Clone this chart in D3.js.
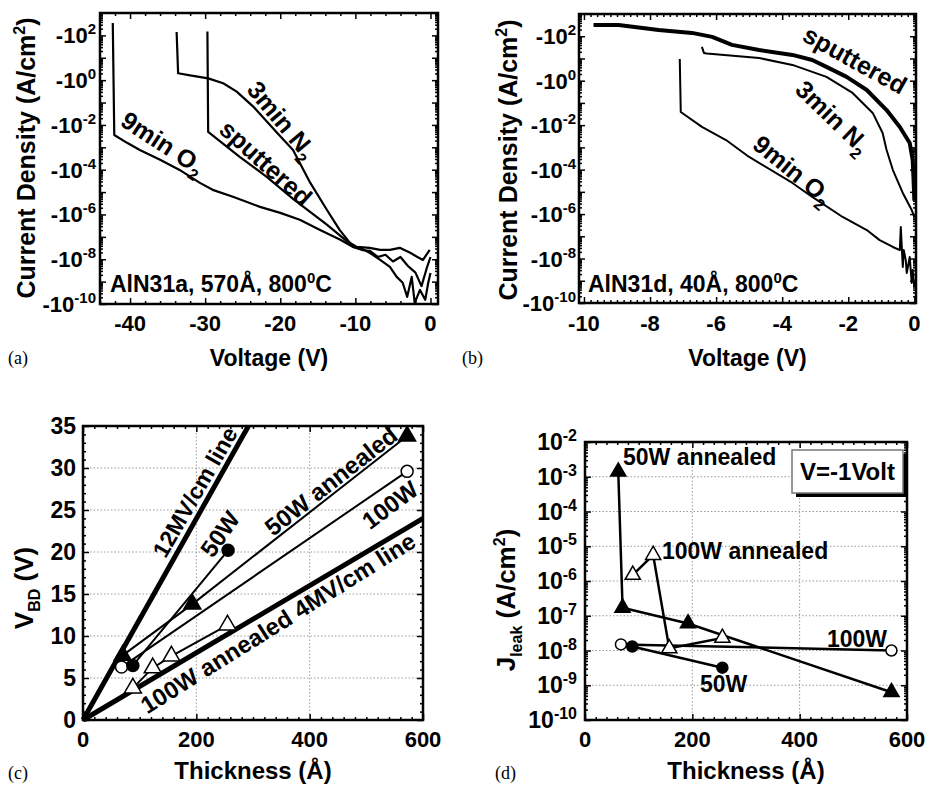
<!DOCTYPE html>
<html>
<head>
<meta charset="utf-8">
<script src="https://cdn.jsdelivr.net/npm/d3@7/dist/d3.min.js"></script>
<style>
  body { margin: 0; background: #fff; }
  text { font-family: 'Liberation Sans', Arial, sans-serif; font-weight: bold; fill: #000; }
  text.tag { font-family: 'Liberation Serif', 'Times New Roman', serif; font-weight: normal; font-size: 18px; }
</style>
</head>
<body>
<svg id="fig" width="926" height="786"></svg>
<script>
// ---- (a) AlN31a 570A : [voltage (V), log10 |J| (A/cm2)]
const aO2 = [[-42.3, 2.55], [-42.1, -2.45], [-40.4, -2.8], [-38.7, -3.12], [-36.0, -3.56], [-33.4, -4.01],
  [-30.7, -4.59], [-29.0, -4.9], [-26.3, -5.21], [-22.7, -5.66], [-20.0, -5.93], [-17.4, -6.24],
  [-14.7, -6.69], [-12.0, -7.13], [-10.3, -7.45], [-9.0, -7.55], [-8.1, -7.71], [-6.7, -8.03],
  [-5.4, -8.34], [-4.5, -8.79], [-3.7, -9.05], [-3.1, -9.68], [-2.5, -8.79], [-2.1, -9.95],
  [-1.4, -9.37], [-0.7, -9.81], [-0.3, -9.05], [0.0, -8.61]];
const aN2 = [[-33.8, 2.15], [-33.6, 0.31], [-32.0, 0.21], [-29.6, 0.08], [-27.6, -0.14], [-25.8, -0.51],
  [-23.6, -1.18], [-20.4, -2.36], [-18.3, -3.12], [-16.0, -4.59], [-13.8, -5.79], [-12.1, -6.69],
  [-10.3, -7.45], [-9.0, -7.6], [-8.1, -7.62], [-7.0, -7.9], [-6.0, -7.8], [-5.0, -8.1], [-4.0, -7.9],
  [-3.0, -8.3], [-2.0, -8.6], [-1.2, -9.2], [-0.5, -8.4], [0.0, -7.9]];
const aSput = [[-29.7, 2.17], [-29.6, -2.31], [-25.4, -3.43], [-21.8, -4.32], [-18.3, -5.3], [-13.8, -6.45],
  [-11.1, -7.2], [-9.8, -7.45], [-8.1, -7.49], [-6.7, -7.58], [-5.4, -7.58], [-4.1, -7.49], [-2.7, -7.71],
  [-1.8, -7.89], [-1.0, -8.03], [-0.1, -7.58]];

// ---- (b) AlN31d 40A
const bSput = [[-9.71, 2.51], [-8.95, 2.51], [-7.74, 2.28], [-6.73, 2.15], [-6.12, 1.97], [-5.52, 1.61],
  [-4.7, 1.38], [-3.69, 1.16], [-3.09, 0.93], [-2.66, 0.62], [-2.05, 0.17], [-1.44, -0.42], [-0.84, -1.32],
  [-0.44, -2.08], [-0.14, -2.8], [-0.05, -3.57], [-0.02, -4.6], [0.0, -5.4]];
const bN2 = [[-6.43, 1.52], [-6.37, 1.25], [-6.28, 1.22], [-4.7, 1.02], [-3.69, 0.71], [-2.66, 0.17],
  [-1.87, -0.55], [-1.26, -1.45], [-0.96, -2.35], [-0.84, -3.12], [-0.65, -4.02], [-0.35, -5.05],
  [-0.08, -5.82], [0.0, -6.13]];
const bO2 = [[-7.1, 0.98], [-7.07, -1.41], [-6.43, -2.08], [-5.7, -2.67], [-5.0, -3.43], [-3.69, -4.6],
  [-3.09, -5.23], [-2.17, -6.13], [-1.44, -6.72], [-1.05, -7.17], [-0.65, -7.48], [-0.44, -7.62],
  [-0.41, -6.58], [-0.35, -8.38], [-0.32, -7.62], [-0.26, -8.07], [-0.23, -8.65], [-0.14, -7.93],
  [-0.08, -9.1], [-0.05, -8.52], [0.0, -9.28]];

// ---- (c) breakdown voltage: [thickness (A), V_BD (V)]
const cLine12 = [[0, 0], [292, 35]];
const cLine4 = [[0, 0], [600, 24]];
const c50W = [[88, 6.5], [256, 20.2]];
const c100W = [[68, 6.3], [572, 29.6]];
const c50WA = [[70, 7.7], [193, 13.8], [572, 33.8]];
const c100WA = [[88, 3.8], [123, 6.2], [156, 7.6], [255, 11.3]];

// ---- (d) leakage at -1 V: [thickness (A), J (A/cm2)]
const d50WA = [[62, 1.4e-3], [70, 1.7e-7], [192, 6e-8], [571, 6.3e-10]];
const d100WA = [[89, 1.5e-6], [127, 5.6e-6], [157, 1.15e-8], [256, 2.3e-8]];
const d100W = [[67, 1.5e-8], [571, 1.0e-8]];
const d50W = [[88, 1.3e-8], [256, 3.2e-9]];

// tick labels
const ivXTicks = [-40, -30, -20, -10, 0];
const ivbXTicks = [-10, -8, -6, -4, -2, 0];
const ivYExp = [2, 0, -2, -4, -6, -8, -10];
const thkTicks = [0, 200, 400, 600];
const vbdTicks = [0, 5, 10, 15, 20, 25, 30, 35];
const jExp = [-2, -3, -4, -5, -6, -7, -8, -9, -10];

const svg = d3.select('#fig');

function decades(lo, hi) { return d3.range(lo, hi + 1).map(e => 10 ** e); }
function minorsLog(lo, hi) {
  const out = [];
  d3.range(lo, hi).forEach(e => { for (let k = 2; k < 10; k++) out.push(k * 10 ** e); });
  return out;
}

// inward ticks on all four sides + frame
function frame(g, x, y, w, h, xMaj, xMin, yMaj, yMin) {
  const sides = [
    [() => d3.axisBottom(x), `translate(0,${h})`, xMaj, xMin],
    [() => d3.axisTop(x), 'translate(0,0)', xMaj, xMin],
    [() => d3.axisLeft(y), 'translate(0,0)', yMaj, yMin],
    [() => d3.axisRight(y), `translate(${w},0)`, yMaj, yMin],
  ];
  sides.forEach(([mk, tr, maj, min]) => {
    [[maj, 6], [min, 3]].forEach(([vals, len]) => {
      g.append('g').attr('transform', tr)
        .call(mk().tickValues(vals).tickSize(-len).tickFormat(() => ''))
        .call(s => s.select('.domain').remove())
        .selectAll('line').attr('stroke', '#000').attr('stroke-width', 1.5);
    });
  });
  g.append('rect').attr('width', w).attr('height', h)
    .attr('fill', 'none').attr('stroke', '#000').attr('stroke-width', 2.5);
}

function powLabels(g, y, exps, xPos, base, size, supSize) {
  exps.forEach(e => {
    const t = g.append('text').attr('x', xPos).attr('y', y(10 ** e) + 8)
      .attr('text-anchor', 'end').attr('font-size', size);
    t.append('tspan').text(base);
    t.append('tspan').attr('dy', -9).attr('font-size', supSize).text(e);
  });
}

function xLabels(g, x, vals, yPos) {
  g.selectAll(null).data(vals).enter().append('text')
    .attr('x', d => x(d)).attr('y', yPos).attr('text-anchor', 'middle')
    .attr('font-size', 22).text(d => d);
}

function rotLabel(g, cx, cy, angle, size, parts) {
  const t = g.append('text').attr('transform', `translate(${cx},${cy}) rotate(${angle})`)
    .attr('text-anchor', 'middle').attr('dy', '0.35em').attr('font-size', size);
  parts.forEach(([txt, dy, fs]) => {
    const ts = t.append('tspan').text(txt);
    if (dy) ts.attr('dy', dy);
    if (fs) ts.attr('font-size', fs);
  });
  return t;
}

function ivTitle(cx, cy) {
  rotLabel(svg, cx, cy, -90, 25, [['Current Density (A/cm'], ['2', -10, 16], [')', 10]]);
}

// ================= panel (a) =================
{
  const L = 100, T = 13, W = 338, H = 291;
  const x = d3.scaleLinear().domain([-44, 1]).range([0, W]);
  const y = d3.scaleLog().domain([1e-10, 1e3]).range([H, 0]);
  const g = svg.append('g').attr('transform', `translate(${L},${T})`);
  const line = d3.line().x(d => x(d[0])).y(d => y(10 ** d[1]));
  [aO2, aN2, aSput].forEach(s => g.append('path').attr('d', line(s))
    .attr('fill', 'none').attr('stroke', '#000').attr('stroke-width', 2.2).attr('stroke-linejoin', 'round'));
  frame(g, x, y, W, H, ivXTicks, d3.range(-44, 1, 2).filter(v => v % 10 !== 0),
    decades(-10, 2), minorsLog(-10, 3));
  powLabels(g, y, ivYExp, -4, '-10', 22, 15);
  xLabels(g, x, ivXTicks, 318);
  rotLabel(g, 63, 130, 33, 25, [['9min O'], ['2', 7, 16]]);
  rotLabel(g, 166, 150, 42, 25, [['sputtered']]);
  rotLabel(g, 182, 107, 50, 25, [['3min N'], ['2', 7, 16]]);
  g.append('text').attr('x', 10).attr('y', 279).attr('font-size', 23)
    .call(t => { t.append('tspan').text('AlN31a, 570Å, 800'); t.append('tspan').attr('dy', -9).attr('font-size', 15).text('0'); t.append('tspan').attr('dy', 9).text('C'); });
  svg.append('text').attr('x', L + W / 2).attr('y', 366).attr('text-anchor', 'middle').attr('font-size', 23).text('Voltage (V)');
  ivTitle(26, 158);
  svg.append('text').attr('class', 'tag').attr('x', 8).attr('y', 364).text('(a)');
}

// ================= panel (b) =================
{
  const L = 579, T = 14, W = 337, H = 289;
  const x = d3.scaleLinear().domain([-10.15, 0.05]).range([0, W]);
  const y = d3.scaleLog().domain([1e-10, 1e3]).range([H, 0]);
  const g = svg.append('g').attr('transform', `translate(${L},${T})`);
  const line = d3.line().x(d => x(d[0])).y(d => y(10 ** d[1]));
  g.append('path').attr('d', line(bSput)).attr('fill', 'none').attr('stroke', '#000').attr('stroke-width', 4).attr('stroke-linejoin', 'round');
  [bN2, bO2].forEach(s => g.append('path').attr('d', line(s))
    .attr('fill', 'none').attr('stroke', '#000').attr('stroke-width', 2).attr('stroke-linejoin', 'round'));
  frame(g, x, y, W, H, ivbXTicks, d3.range(-10, 0.01, 0.2).filter(v => Math.abs(v / 2 - Math.round(v / 2)) > 0.01),
    decades(-10, 2), minorsLog(-10, 3));
  powLabels(g, y, ivYExp, -3, '-10', 22, 15);
  xLabels(g, x, ivbXTicks, 317);
  rotLabel(g, 276, 46, 29, 25, [['sputtered']]);
  rotLabel(g, 254, 103, 44, 25, [['3min N'], ['2', 7, 16]]);
  rotLabel(g, 214, 156, 39, 25, [['9min O'], ['2', 7, 16]]);
  g.append('text').attr('x', 9).attr('y', 278).attr('font-size', 23)
    .call(t => { t.append('tspan').text('AlN31d, 40Å, 800'); t.append('tspan').attr('dy', -9).attr('font-size', 15).text('0'); t.append('tspan').attr('dy', 9).text('C'); });
  svg.append('text').attr('x', L + W / 2).attr('y', 366).attr('text-anchor', 'middle').attr('font-size', 23).text('Voltage (V)');
  ivTitle(508, 160);
  svg.append('text').attr('class', 'tag').attr('x', 462).attr('y', 364).text('(b)');
}

function drawMarkers(g, data, x, y, shape, filled, big) {
  const sel = g.selectAll(null).data(data).enter();
  if (shape === 'circle') {
    sel.append('circle').attr('cx', d => x(d[0])).attr('cy', d => y(d[1])).attr('r', big ? 6 : 5.5)
      .attr('fill', filled ? '#000' : '#fff').attr('stroke', '#000').attr('stroke-width', 1.5);
  } else {
    sel.append('path').attr('d', d3.symbol(d3.symbolTriangle, big ? 125 : 100)())
      .attr('transform', d => `translate(${x(d[0])},${y(d[1])})`)
      .attr('fill', filled ? '#000' : '#fff').attr('stroke', '#000').attr('stroke-width', 1.5);
  }
}

function grid(g, x, y, W, H, xs, ys) {
  g.selectAll(null).data(xs).enter().append('line')
    .attr('x1', d => x(d)).attr('x2', d => x(d)).attr('y1', 0).attr('y2', H);
  g.selectAll(null).data(ys).enter().append('line')
    .attr('y1', d => y(d)).attr('y2', d => y(d)).attr('x1', 0).attr('x2', W);
  g.selectAll('line').attr('stroke', '#999').attr('stroke-width', 1).attr('stroke-dasharray', '1.5,2');
}

// ================= panel (c) =================
{
  const L = 83, T = 426, W = 340, H = 294;
  const x = d3.scaleLinear().domain([0, 600]).range([0, W]);
  const y = d3.scaleLinear().domain([0, 35]).range([H, 0]);
  const g = svg.append('g').attr('transform', `translate(${L},${T})`);
  grid(g.append('g'), x, y, W, H, [200, 400], [5, 10, 15, 20, 25, 30]);
  const line = d3.line().x(d => x(d[0])).y(d => y(d[1]));
  [cLine12, cLine4].forEach(s => g.append('path').attr('d', line(s)).attr('stroke', '#000').attr('stroke-width', 5).attr('fill', 'none'));
  [c50W, c100W, c50WA, c100WA].forEach(s => g.append('path').attr('d', line(s)).attr('stroke', '#000').attr('stroke-width', 2).attr('fill', 'none'));
  drawMarkers(g, c100W, x, y, 'circle', false, true);
  drawMarkers(g, c50W, x, y, 'circle', true, true);
  drawMarkers(g, c50WA, x, y, 'tri', true, true);
  drawMarkers(g, c100WA, x, y, 'tri', false, true);
  frame(g, x, y, W, H, thkTicks, d3.range(20, 600, 20).filter(v => v % 200 !== 0), vbdTicks, d3.range(1, 35, 1).filter(v => v % 5 !== 0));
  g.selectAll(null).data(vbdTicks).enter().append('text')
    .attr('x', -7).attr('y', d => y(d) + 8).attr('text-anchor', 'end').attr('font-size', 23).text(d => d);
  xLabels(g, x, thkTicks, 321);
  rotLabel(g, 112, 66, -60, 23, [['12MV/cm line']]);
  rotLabel(g, 137, 108, -55, 24, [['50W']]);
  rotLabel(g, 248, 55, -38, 24, [['50W annealed']]);
  rotLabel(g, 307, 79, -37, 24, [['100W']]);
  rotLabel(g, 195, 197, -32, 24, [['100W annealed 4MV/cm line']]);
  svg.append('text').attr('x', L + W / 2).attr('y', 779).attr('text-anchor', 'middle').attr('font-size', 24).text('Thickness (Å)');
  rotLabel(svg, 24, 588, -90, 26, [['V'], ['BD', 7, 16], [' (V)', -7, 26]]);
  svg.append('text').attr('class', 'tag').attr('x', 8).attr('y', 779).text('(c)');
}

// ================= panel (d) =================
{
  const L = 585, T = 442, W = 322, H = 278;
  const x = d3.scaleLinear().domain([0, 600]).range([0, W]);
  const y = d3.scaleLog().domain([1e-10, 1e-2]).range([H, 0]);
  const g = svg.append('g').attr('transform', `translate(${L},${T})`);
  grid(g.append('g'), x, y, W, H, [200, 400], decades(-9, -3));
  const line = d3.line().x(d => x(d[0])).y(d => y(d[1]));
  [d50WA, d100WA, d100W, d50W].forEach(s => g.append('path').attr('d', line(s)).attr('stroke', '#000').attr('stroke-width', 2.5).attr('fill', 'none'));
  drawMarkers(g, d100W, x, y, 'circle', false);
  drawMarkers(g, d50W, x, y, 'circle', true);
  drawMarkers(g, d50WA, x, y, 'tri', true);
  drawMarkers(g, d100WA, x, y, 'tri', false);
  frame(g, x, y, W, H, thkTicks, d3.range(20, 600, 20).filter(v => v % 200 !== 0), decades(-10, -2), minorsLog(-10, -2));
  powLabels(g, y, jExp, -8, '10', 23, 16);
  xLabels(g, x, thkTicks, 305);
  g.append('text').attr('x', 38).attr('y', 23).attr('font-size', 23).text('50W annealed');
  g.append('text').attr('x', 77).attr('y', 117).attr('font-size', 23).text('100W annealed');
  g.append('text').attr('x', 302).attr('y', 205).attr('text-anchor', 'end').attr('font-size', 23).text('100W');
  g.append('text').attr('x', 115).attr('y', 250).attr('font-size', 23).text('50W');
  // legend box with shadow
  const lg = g.append('g').attr('transform', 'translate(207,8)');
  lg.append('rect').attr('x', 4).attr('y', 4).attr('width', 111).attr('height', 43).attr('fill', '#000');
  lg.append('rect').attr('width', 111).attr('height', 43).attr('fill', '#fff').attr('stroke', '#777').attr('stroke-width', 1.5);
  lg.append('text').attr('x', 55.5).attr('y', 30).attr('text-anchor', 'middle').attr('font-size', 24).text('V=-1Volt');
  svg.append('text').attr('x', L + W / 2).attr('y', 779).attr('text-anchor', 'middle').attr('font-size', 24).text('Thickness (Å)');
  rotLabel(svg, 506, 600, -90, 26, [['J'], ['leak', 7, 16], [' (A/cm', -7, 26], ['2', -10, 16], [')', 10, 26]]);
  svg.append('text').attr('class', 'tag').attr('x', 495).attr('y', 779).text('(d)');
}
</script>
</body>
</html>
